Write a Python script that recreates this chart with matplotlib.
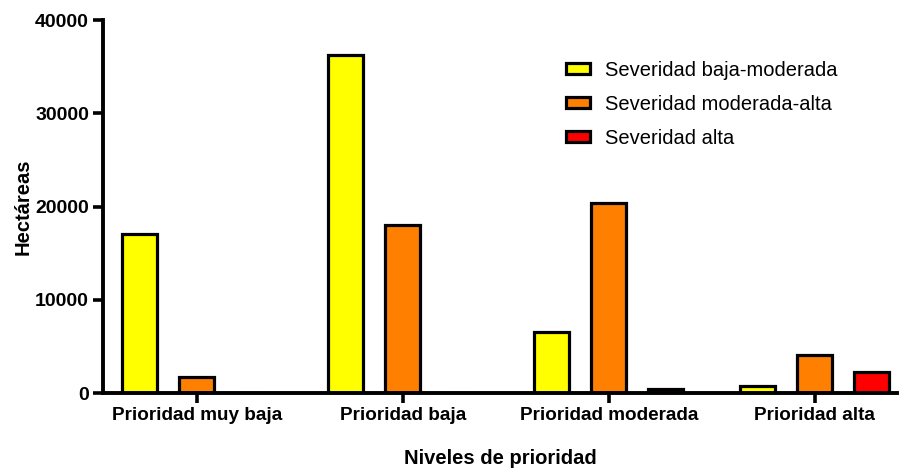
import matplotlib
matplotlib.use("Agg")
import matplotlib.pyplot as plt
import numpy as np

categories = ["Prioridad muy baja", "Prioridad baja", "Prioridad moderada", "Prioridad alta"]
series_names = ["Severidad baja-moderada", "Severidad moderada-alta", "Severidad alta"]
baja_moderada = [17100, 36200, 6500, 750]
moderada_alta = [1700, 18000, 20400, 4100]
alta = [0, 0, 400, 2250]
colors = ["#FFFF00", "#FF8000", "#FF0000"]

plt.rcParams['font.family'] = ['Liberation Sans', 'DejaVu Sans']

fig = plt.figure(figsize=(9.06, 4.70), dpi=100)
ax = fig.add_axes([103/906, 1-393/470, (897-103)/906, (393-20)/470])

x = np.arange(len(categories))
offset = 57/206
width = 35/206
for i, (vals, name, c) in enumerate(zip([baja_moderada, moderada_alta, alta], series_names, colors)):
    ax.bar(x + (i-1)*offset, vals, width=width, color=c, edgecolor='black',
           linewidth=2.3, label=name, zorder=2)

ax.set_xlim(-0.456, 3.4)
ax.set_ylim(0, 40000)
ax.set_yticks([0, 10000, 20000, 30000, 40000])
ax.set_xticks(x)
ax.set_xticklabels(categories, fontsize=13.6, fontweight='bold')
for lab in ax.get_yticklabels():
    lab.set_fontsize(14)
    lab.set_fontweight('bold')
ax.tick_params(axis='both', width=2.6, length=7, direction='out', pad=3)
for s in ['top', 'right']:
    ax.spines[s].set_visible(False)
for s in ['left', 'bottom']:
    ax.spines[s].set_linewidth(2.8)
    ax.spines[s].set_zorder(3)

ax.set_ylabel("Hectáreas", fontsize=14.5, fontweight='bold', labelpad=2)
ax.set_xlabel("Niveles de prioridad", fontsize=14.5, fontweight='bold', labelpad=18)

leg = ax.legend(loc='upper left', bbox_to_anchor=(0.56, 0.94), frameon=False,
                fontsize=14.5, handlelength=1.2, handleheight=0.5, labelspacing=0.75,
                handletextpad=0.75)
for h in leg.legend_handles:
    h.set_linewidth(2.3)

fig.savefig("out.png", dpi=100)
